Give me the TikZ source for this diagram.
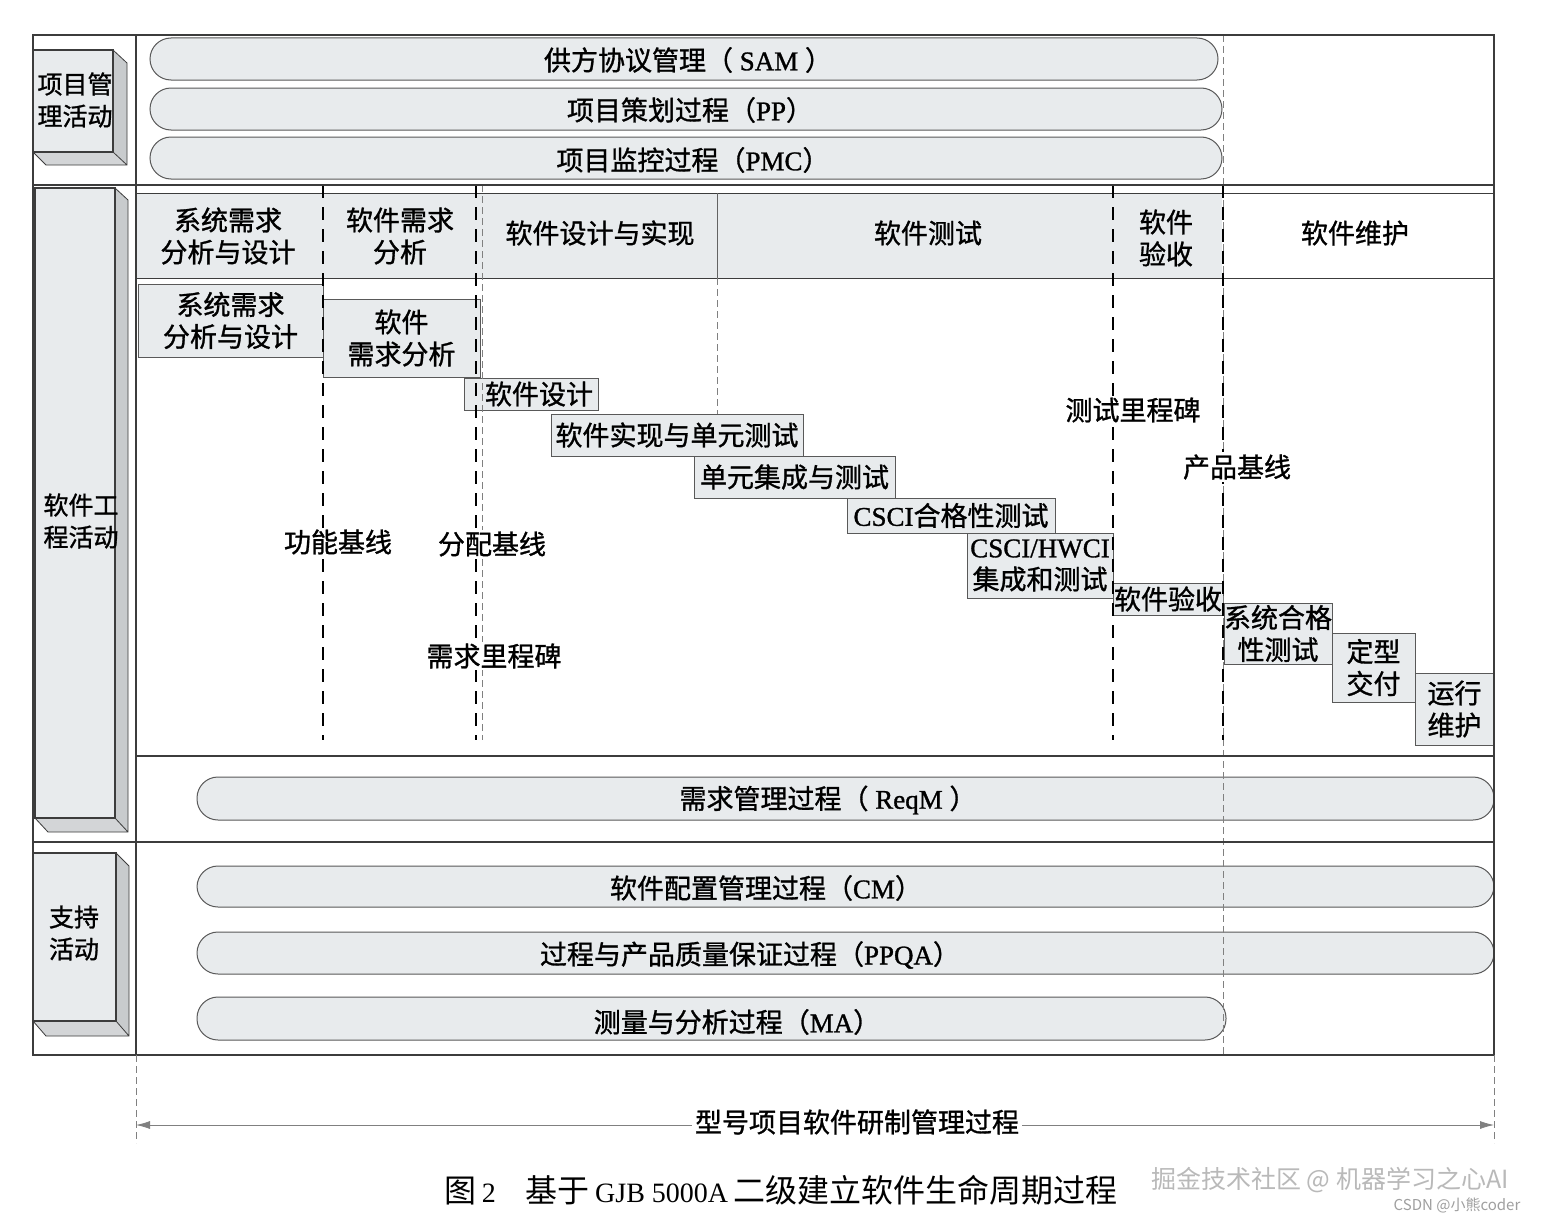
\documentclass[tikz,border=0pt]{standalone}
\usepackage{fontspec}
\setmainfont{Noto Sans CJK SC}[FakeBold=1.1]
\newfontfamily\lat{Liberation Serif}[FakeBold=1.1]
\newfontfamily\plain{Noto Sans CJK SC}
\newfontfamily\platin{Liberation Serif}
\usetikzlibrary{arrows.meta}
\definecolor{boxgray}{RGB}{232,235,237}
\definecolor{sidegray}{RGB}{200,203,205}
\definecolor{linegray}{RGB}{60,60,60}
\tikzset{
  >={Latex[length=14pt,width=8pt]},
}
\tikzstyle{frame}=[draw=linegray,line width=1.3pt]
\tikzstyle{pill}=[draw=linegray!85,fill=boxgray,line width=1pt,rounded corners=21pt]
\tikzstyle{stepbox}=[draw=linegray!85,fill=boxgray,line width=1pt,inner sep=0pt,align=center]
\tikzstyle{phase}=[black,line width=1.8pt,dash pattern=on 13pt off 9pt]
\tikzstyle{thindash}=[gray,line width=0.8pt,dash pattern=on 7pt off 4pt]
\tikzstyle{every node}=[font=\fontsize{27}{32}\selectfont]
\tikzstyle{mile}=[fill=white,inner sep=2pt]
\tikzstyle{sidelbl}=[align=center,font=\fontsize{25}{32}\selectfont]

\begin{document}
\begin{tikzpicture}[x=1pt,y=-1pt]
  \useasboundingbox (0,0) rectangle (1541,1223);
  \fill[white] (0,0) rectangle (1541,1223);

  % project management
  \draw[pill] (150,38) rectangle (1218,80);
  \draw[pill] (150,88) rectangle (1222,130);
  \draw[pill] (150,137) rectangle (1222,179);
  \node (sam) at (688,60) {供方协议管理（{\lat\ SAM\ }）};
  \node (pp) at (690,110) {项目策划过程（{\lat PP}）};
  \node (pmc) at (693,160) {项目监控过程（{\lat PMC}）};

  % header band
  \fill[boxgray] (136,193) rectangle (1222,278);
  \draw[linegray,line width=1pt] (136,193) -- (1494,193) (136,278) -- (1494,278);
  \draw[linegray!80,line width=0.8pt] (717,193) -- (717,278);
  \draw[thindash] (717,278) -- (717,456);
  \node[align=center] (hsys) at (228,236) {系统需求\\分析与设计};
  \node[align=center] (hswreq) at (400,236) {软件需求\\分析};
  \node (hdes) at (600,233) {软件设计与实现};
  \node (htest) at (928,233) {软件测试};
  \node[align=center] (hacc) at (1166,238) {软件\\验收};
  \node (hmaint) at (1355,233) {软件维护};

  % steps
  \node[stepbox,minimum width=185pt,minimum height=73pt] (sysreq) at (230.5,320.5) {系统需求\\分析与设计};
  \node[stepbox,minimum width=157pt,minimum height=78pt] (swreq) at (401.5,338) {软件\\需求分析};
  \node[stepbox,minimum width=134pt,minimum height=32pt] (swdes) at (531,394) {\hspace{16pt}软件设计};
  \node[stepbox,minimum width=252pt,minimum height=42pt] (swimpl) at (677,435) {软件实现与单元测试};
  \node[stepbox,minimum width=201pt,minimum height=42pt] (unitint) at (794.5,477) {单元集成与测试};
  \node[stepbox,minimum width=208pt,minimum height=35pt] (cscitest) at (951,515.5) {{\lat CSCI}合格性测试};
  \node[stepbox,minimum width=146pt,minimum height=65pt] (csciint) at (1040,565.5) {{\lat CSCI/HWCI}\\集成和测试};
  \node[stepbox,minimum width=110pt,minimum height=32pt] (accept) at (1168,599) {软件验收};
  \node[stepbox,minimum width=108pt,minimum height=61pt] (systest) at (1278,633.5) {系统合格\\性测试};
  \node[stepbox,minimum width=83pt,minimum height=69pt] (deliver) at (1373.5,667.5) {定型\\交付};
  \node[stepbox,minimum width=79pt,minimum height=72pt] (maint) at (1454.5,709) {运行\\维护};

  % requirement management and support
  \draw[pill] (197,777) rectangle (1494,820);
  \draw[pill] (197,866) rectangle (1494,907);
  \draw[pill] (197,932) rectangle (1494,974);
  \draw[pill] (197,997) rectangle (1226,1040);
  \node (reqm) at (828,800) {需求管理过程（{\lat\ ReqM\ }）};
  \node (cm) at (766,888) {软件配置管理过程（{\lat CM}）};
  \node (ppqa) at (750,955) {过程与产品质量保证过程（{\lat PPQA}）};
  \node (ma) at (737,1022) {测量与分析过程（{\lat MA}）};

  % phase lines
  \draw[thindash] (1223,35) -- (1223,1055);
  \draw[phase] (323,185) -- (323,740);
  \draw[phase] (476,185) -- (476,740);
  \draw[thindash] (482,185) -- (482,740);
  \draw[phase] (1113,185) -- (1113,740);
  \draw[phase] (1223,185) -- (1223,740);
  \node[mile] (fbase) at (338,542) {功能基线};
  \node[mile] (abase) at (492,544) {分配基线};
  \node[mile] (reqms) at (494,656) {需求里程碑};
  \node[mile] (testms) at (1133,410) {测试里程碑};
  \node[mile] (pbase) at (1237,467) {产品基线};

  % frame
  \draw[frame] (33,35) rectangle (1494,1055);
  \draw[frame] (136,35) -- (136,1055);
  \draw[frame] (33,185) -- (1494,185) (33,842) -- (1494,842);
  \draw[frame] (136,756) -- (1494,756);

  % side blocks
  \fill[sidegray] (113,50) -- (127,63) -- (127,165) -- (113,152) -- cycle;
  \fill[sidegray!80] (33,152) -- (113,152) -- (127,165) -- (46,165) -- cycle;
  \draw[frame,fill=boxgray] (33,50) rectangle (113,152);
  \draw[linegray,line width=0.8pt] (113,50) -- (127,63) -- (127,165) -- (46,165) -- (33,152) (113,152) -- (127,165);
  \node[sidelbl] (pmlbl) at (75,100) {项目管\\理活动};

  \fill[sidegray] (115,188) -- (128,200) -- (128,832) -- (115,818) -- cycle;
  \fill[sidegray!80] (35,818) -- (115,818) -- (128,832) -- (48,832) -- cycle;
  \draw[frame,fill=boxgray] (35,188) rectangle (115,818);
  \draw[linegray,line width=0.8pt] (115,188) -- (128,200) -- (128,832) -- (48,832) -- (35,818) (115,818) -- (128,832);
  \node[sidelbl] (selbl) at (81,521) {软件工\\程活动};

  \fill[sidegray] (116,853) -- (129,866) -- (129,1036) -- (116,1021) -- cycle;
  \fill[sidegray!80] (33,1021) -- (116,1021) -- (129,1036) -- (46,1036) -- cycle;
  \draw[frame,fill=boxgray] (33,853) rectangle (116,1021);
  \draw[linegray,line width=0.8pt] (116,853) -- (129,866) -- (129,1036) -- (46,1036) -- (33,1021) (116,1021) -- (129,1036);
  \node[sidelbl] (suplbl) at (74,933) {支持\\活动};

  % overall span
  \draw[thindash] (136,1055) -- (136,1143) (1494,1055) -- (1494,1143);
  \coordinate (spanl) at (136,1125);
  \coordinate (spanr) at (1494,1125);
  \draw[<->,gray,line width=0.8pt] (spanl) -- (spanr);
  \node[fill=white,inner sep=3pt] (spanlbl) at (857,1122) {型号项目软件研制管理过程};

  \node[anchor=west] (caption) at (441,1190) {\plain\fontsize{32}{38}\selectfont 图\,{\platin\fontsize{28}{32}\selectfont 2}\hspace{30pt}基于\,{\platin\fontsize{28}{32}\selectfont GJB 5000A}\,二级建立软件生命周期过程};
  \node[text=gray!55] (wm) at (1330,1180) {\plain\fontsize{25}{30}\selectfont 掘金技术社区 @ 机器学习之心AI};
  \node[text=gray!75] (csdn) at (1457,1205) {\plain\fontsize{15}{18}\selectfont CSDN @小熊coder};
\end{tikzpicture}
\end{document}
